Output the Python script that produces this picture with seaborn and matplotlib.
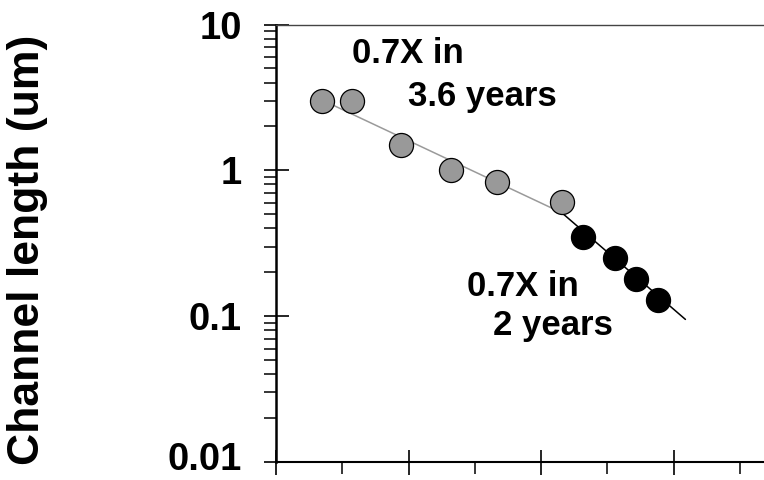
import numpy as np
import pandas as pd
import matplotlib
matplotlib.use("Agg")
import matplotlib.pyplot as plt
from matplotlib.ticker import FixedLocator, NullFormatter
from matplotlib.transforms import ScaledTranslation
import seaborn as sns

# ---- data ----
years_slow = [1973.5, 1975.7, 1979.4, 1983.2, 1986.7, 1991.6]
length_slow = [3.0, 3.0, 1.5, 1.0, 0.83, 0.61]
years_fast = [1993.2, 1995.6, 1997.2, 1998.8]
length_fast = [0.35, 0.25, 0.18, 0.13]

trend_slow_years = [1974.3, 1991.6]
trend_slow_vals = [2.80, 0.51]
trend_fast_years = [1991.7, 2000.9]
trend_fast_vals = [0.50, 0.095]

ytick_vals = [0.01, 0.1, 1, 10]
ytick_labels = ["0.01", "0.1", "1", "10"]
xtick_major = [1970, 1980, 1990, 2000]
xtick_minor = [1975, 1985, 1995, 2005]

ylabel = "Channel length (um)"
note_slow = ("0.7X in", "3.6 years")
note_fast = ("0.7X in", "2 years")

sns.set_theme(style="ticks")
plt.rcParams["font.family"] = ["Liberation Sans", "DejaVu Sans"]
plt.rcParams["font.weight"] = "bold"
plt.rcParams["text.color"] = "black"
plt.rcParams["axes.labelcolor"] = "black"
plt.rcParams["xtick.color"] = "black"
plt.rcParams["ytick.color"] = "black"
plt.rcParams["xtick.labelcolor"] = "black"
plt.rcParams["ytick.labelcolor"] = "black"

fig = plt.figure(figsize=(7.64, 4.80), dpi=100)
W, H = 764, 480
ax = fig.add_axes([276 / W, (H - 462) / H, (W - 276) / W, (462 - 24.5) / H])

df_slow = pd.DataFrame({"year": years_slow, "len": length_slow})
df_fast = pd.DataFrame({"year": years_fast, "len": length_fast})
df_ts = pd.DataFrame({"year": trend_slow_years, "len": trend_slow_vals})
df_tf = pd.DataFrame({"year": trend_fast_years, "len": trend_fast_vals})

sns.lineplot(data=df_ts, x="year", y="len", color="#9a9a9a", linewidth=1.1, ax=ax, zorder=2)
sns.lineplot(data=df_tf, x="year", y="len", color="black", linewidth=1.1, ax=ax, zorder=2)
sns.scatterplot(data=df_slow, x="year", y="len", s=300, color="#999999",
                edgecolor="black", linewidth=0.9, ax=ax, zorder=3)
sns.scatterplot(data=df_fast, x="year", y="len", s=300, color="black",
                edgecolor="black", linewidth=0.9, ax=ax, zorder=3)

ax.set_yscale("log")
ax.set_ylim(0.01, 10)
ax.set_xlim(1970, 1970 + (W - 276) / 13.25)

ax.set_yticks(ytick_vals)
ax.set_yticklabels(ytick_labels)
ax.yaxis.set_minor_locator(FixedLocator(
    [m * 10.0 ** e for e in (-2, -1, 0) for m in range(2, 10)]))
ax.yaxis.set_minor_formatter(NullFormatter())

ax.set_xticks(xtick_major)
ax.set_xticklabels([])
ax.xaxis.set_minor_locator(FixedLocator(xtick_minor))

ax.tick_params(axis="both", which="major", direction="inout", length=18,
               width=1.2, color="black")
ax.tick_params(axis="both", which="minor", direction="out", length=8.5,
               width=1.1, color="black")
ax.tick_params(axis="y", which="major", labelsize=27.5, pad=15.5, labelcolor="black")
for t in ax.get_yticklabels():
    t.set_fontweight("bold")
    t.set_color("black")
# lift the bottom label a little so it stays inside the canvas
lbl0 = ax.yaxis.get_major_ticks()[0].label1
lbl0.set_transform(lbl0.get_transform() + ScaledTranslation(0, 4 / 72, fig.dpi_scale_trans))

ax.set_xlabel("")
ax.set_ylabel(ylabel, fontsize=32, fontweight="bold", color="black")
ax.yaxis.set_label_coords((48 - 276) / (W - 276), 0.486)

for side in ["left", "bottom"]:
    ax.spines[side].set_color("black")
    ax.spines[side].set_linewidth(1.5)
ax.spines["left"].set_linewidth(1.8)
ax.spines["top"].set_color("#444444")
ax.spines["top"].set_linewidth(1.0)
ax.spines["right"].set_visible(False)

tkw = dict(fontsize=25, fontweight="bold", va="baseline", ha="left", color="black")
ax.text(1975.7, 5.47, note_slow[0], **tkw)
ax.text(1979.96, 2.76, note_slow[1], **tkw)
ax.text(1984.39, 0.137, note_fast[0], **tkw)
ax.text(1986.4, 0.074, note_fast[1], **tkw)

fig.savefig("out.png", dpi=100)
